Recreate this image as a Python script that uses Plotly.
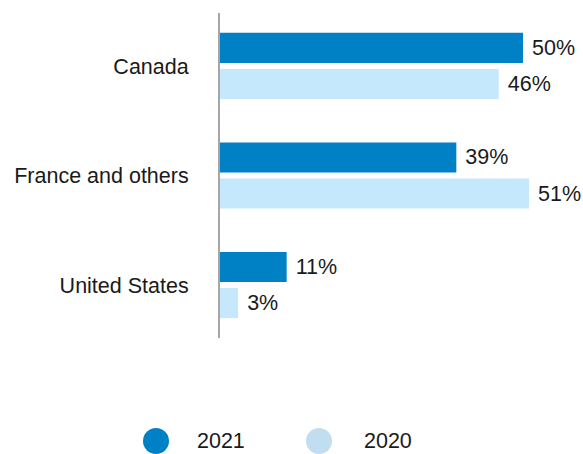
import plotly.graph_objects as go

categories = ["Canada", "France and others", "United States"]
years = ["2021", "2020"]
values_2021 = [50, 39, 11]
values_2020 = [46, 51, 3]
colors = {"2021": "#0081C6", "2020": "#C5E8FC"}
legend_colors = {"2021": "#0081C6", "2020": "#C0DEF0"}

FONT = "Liberation Sans, Arial, sans-serif"
FS = 21.5

fig = go.Figure()
for yr, vals in [("2021", values_2021), ("2020", values_2020)]:
    fig.add_trace(go.Bar(
        y=categories, x=vals, orientation="h", name=yr,
        marker=dict(color=colors[yr], line=dict(width=0)),
        text=[f"\u2008{v}%" for v in vals], textposition="outside",
        outsidetextfont=dict(color="#1a1a1a", size=FS, family=FONT),
        cliponaxis=False, showlegend=False,
        hoverinfo="skip",
    ))

W, H = 583, 454
ml, mr, mt, mb = 220, 0, 13, 116
pw, ph = W - ml - mr, H - mt - mb

def px_to_paper_x(px):
    return (px - ml) / pw

def px_to_paper_y(py):
    return (H - mb - py) / ph

legend_items = [("2021", 156, 195), ("2020", 319, 362)]
shapes = []
annotations = []
for yr, cx, tx in legend_items:
    shapes.append(dict(
        type="circle", xref="paper", yref="paper",
        xsizemode="pixel", ysizemode="pixel",
        xanchor=px_to_paper_x(cx), yanchor=px_to_paper_y(441),
        x0=-13, x1=13, y0=-13, y1=13,
        fillcolor=legend_colors[yr], line=dict(width=0),
    ))
    annotations.append(dict(
        text=yr, xref="paper", yref="paper",
        x=px_to_paper_x(tx), y=px_to_paper_y(441),
        xanchor="left", yanchor="middle", showarrow=False,
        font=dict(size=FS, color="#1a1a1a", family=FONT),
    ))

fig.update_layout(
    width=W, height=H,
    margin=dict(l=ml, r=mr, t=mt, b=mb, pad=0),
    barmode="group", bargap=0.34, bargroupgap=1/6,
    plot_bgcolor="white", paper_bgcolor="white",
    font=dict(family=FONT, size=FS, color="#1a1a1a"),
    showlegend=False,
    shapes=shapes, annotations=annotations,
    xaxis=dict(range=[0, 59.9], visible=False, showgrid=False, zeroline=False),
    yaxis=dict(
        categoryorder="array", categoryarray=categories,
        range=[2.484, -0.484], showgrid=False, zeroline=False,
        showline=True, linecolor="#A6A6A6", linewidth=2,
        ticks="", ticklabelstandoff=25,
        tickfont=dict(size=FS, color="#1a1a1a", family=FONT),
    ),
)

fig.write_html("out.html")
